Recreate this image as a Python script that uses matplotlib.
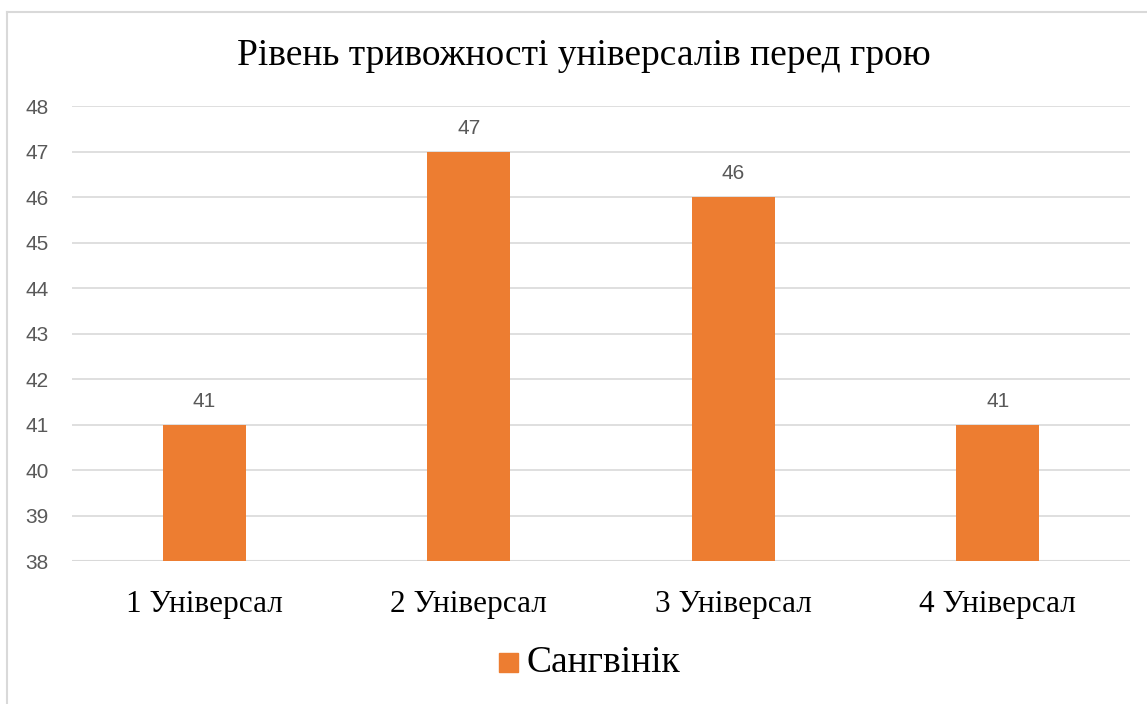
import matplotlib
matplotlib.use("Agg")
import matplotlib.pyplot as plt
from matplotlib.lines import Line2D
from matplotlib.patches import Rectangle

categories = ["1 Універсал", "2 Універсал", "3 Універсал", "4 Універсал"]
values = [41, 47, 46, 41]
series_name = "Сангвінік"
title = "Рівень тривожності універсалів перед грою"
yticks = [38, 39, 40, 41, 42, 43, 44, 45, 46, 47, 48]

W, H = 1147, 704
fig = plt.figure(figsize=(W / 100, H / 100), dpi=100)
ax = fig.add_axes([72 / W, 1 - 561 / H, (1130 - 72) / W, (561 - 106) / H])

orange = "#ED7D31"
grid = "#D9D9D9"
gray = "#595959"
serif = ["Liberation Serif", "DejaVu Serif"]
sans = ["Liberation Sans", "DejaVu Sans"]

x = list(range(len(categories)))
ax.bar(x, [v - 38 for v in values], bottom=38, width=0.314, color=orange, zorder=3)
ax.set_xlim(-0.5, len(categories) - 0.5)
ax.set_ylim(38, 48)
ax.set_yticks(yticks)
ax.set_yticklabels([str(t) for t in yticks], fontfamily=sans, fontsize=15, color=gray)
ax.tick_params(axis="y", length=0, pad=17)
ax.set_xticks(x)
ax.set_xticklabels(categories, fontfamily=serif, fontsize=22.5, color="black")
ax.tick_params(axis="x", length=0, pad=21)
ax.grid(axis="y", color=grid, linewidth=1.2, zorder=0)
for s in ax.spines.values():
    s.set_visible(False)
ax.axhline(38, color=grid, linewidth=1.5, zorder=2)

for xi, v in zip(x, values):
    ax.annotate(str(v), (xi, v), xytext=(0, 10), textcoords="offset points",
                ha="center", va="bottom", fontfamily=sans, fontsize=15, color=gray)

fig.text(584 / W, 1 - 56 / H, title, ha="center", va="center",
         fontfamily=serif, fontsize=27, color="black")

# legend
fig.patches.append(Rectangle((499 / W, 1 - 672 / H), 19 / W, 19 / H,
                             transform=fig.transFigure, color=orange))
fig.text(527 / W, 1 - 663 / H, series_name, ha="left", va="center",
         fontfamily=serif, fontsize=27, color="black")

# chart border
fig.add_artist(Line2D([7 / W, 7 / W], [0, 1 - 12 / H], transform=fig.transFigure,
                      color=grid, linewidth=1.5))
fig.add_artist(Line2D([7 / W, 1], [1 - 12 / H, 1 - 12 / H], transform=fig.transFigure,
                      color=grid, linewidth=1.5))

fig.savefig("out.png", dpi=100)
